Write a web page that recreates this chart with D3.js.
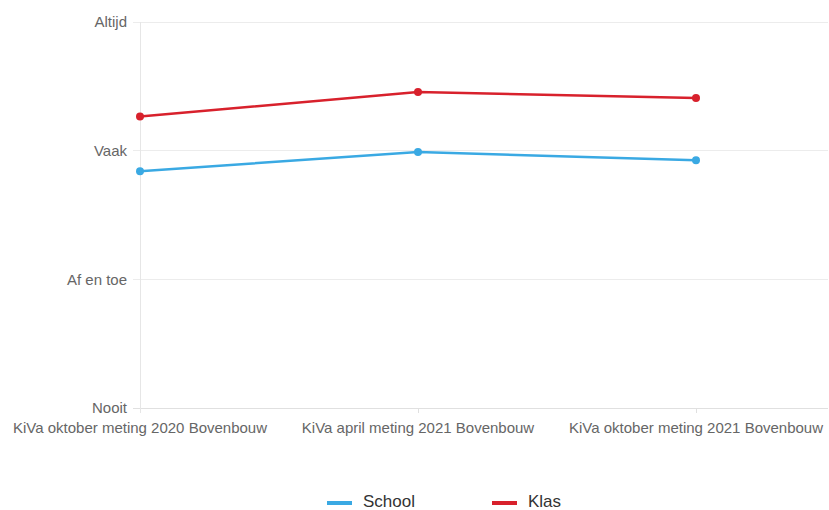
<!DOCTYPE html>
<html><head><meta charset="utf-8">
<script src="https://cdn.jsdelivr.net/npm/d3@7"></script>
<style>body{margin:0;background:#fff;}svg{display:block;font-family:"Liberation Sans",Arial,sans-serif;}</style>
</head><body>
<svg id="chart" width="829" height="510"></svg>
<script>
const categories = ["KiVa oktober meting 2020 Bovenbouw", "KiVa april meting 2021 Bovenbouw", "KiVa oktober meting 2021 Bovenbouw"];
const schoolValues = [2.84, 2.99, 2.925];
const klasValues = [3.265, 3.455, 3.41];
const yTickValues = [1, 2, 3, 4];
const yTickLabels = ["Nooit", "Af en toe", "Vaak", "Altijd"];
const seriesNames = ["School", "Klas"];
const seriesColors = ["#3aa9e3", "#d8212c"];

(function () {
const svg = d3.select("#chart");
const pLeft = 140, pRight = 828, pTop = 22, pBottom = 408;
const x = d3.scalePoint().domain(categories).range([140, 696]);
const y = d3.scaleLinear().domain([1, 4]).range([pBottom, pTop]);

// gridlines
svg.append("g").selectAll("line").data(yTickValues).join("line")
  .attr("x1", pLeft - 7).attr("x2", pRight)
  .attr("y1", d => y(d)).attr("y2", d => y(d))
  .attr("stroke", d => d === 1 ? "#e0e0e0" : "#ececec").attr("stroke-width", 1).attr("shape-rendering", "crispEdges");

// y axis line
svg.append("line").attr("x1", pLeft).attr("x2", pLeft).attr("y1", pTop).attr("y2", pBottom + 5)
  .attr("stroke", "#e6e6e6").attr("shape-rendering", "crispEdges");

// x ticks
svg.append("g").selectAll("line").data(categories.slice(1)).join("line")
  .attr("x1", d => x(d)).attr("x2", d => x(d)).attr("y1", pBottom).attr("y2", pBottom + 5)
  .attr("stroke", "#e0e0e0").attr("shape-rendering", "crispEdges");

// y labels
svg.append("g").selectAll("text").data(yTickValues).join("text")
  .attr("x", pLeft - 13).attr("y", d => y(d)).attr("dy", "0.35em")
  .attr("text-anchor", "end").attr("fill", "#666").attr("font-size", 15)
  .text((d, i) => yTickLabels[i]);

// x labels
svg.append("g").selectAll("text").data(categories).join("text")
  .attr("x", d => x(d)).attr("y", 433)
  .attr("text-anchor", "middle").attr("fill", "#666").attr("font-size", 15)
  .text(d => d);

const series = [schoolValues, klasValues];
const line = d3.line().x((d, i) => x(categories[i])).y(d => y(d));
series.forEach((vals, s) => {
  svg.append("path").datum(vals).attr("d", line)
    .attr("fill", "none").attr("stroke", seriesColors[s]).attr("stroke-width", 2.5);
  svg.append("g").selectAll("circle").data(vals).join("circle")
    .attr("cx", (d, i) => x(categories[i])).attr("cy", d => y(d)).attr("r", 4)
    .attr("fill", seriesColors[s]);
});

// legend
const legendX = [327, 492];
seriesNames.forEach((n, s) => {
  svg.append("line").attr("x1", legendX[s]).attr("x2", legendX[s] + 25).attr("y1", 503).attr("y2", 503)
    .attr("stroke", seriesColors[s]).attr("stroke-width", 4);
  svg.append("text").attr("x", legendX[s] + 36).attr("y", 501).attr("dy", "0.35em")
    .attr("fill", "#333").attr("font-size", 17).text(n);
});
})();
</script>
</body></html>
